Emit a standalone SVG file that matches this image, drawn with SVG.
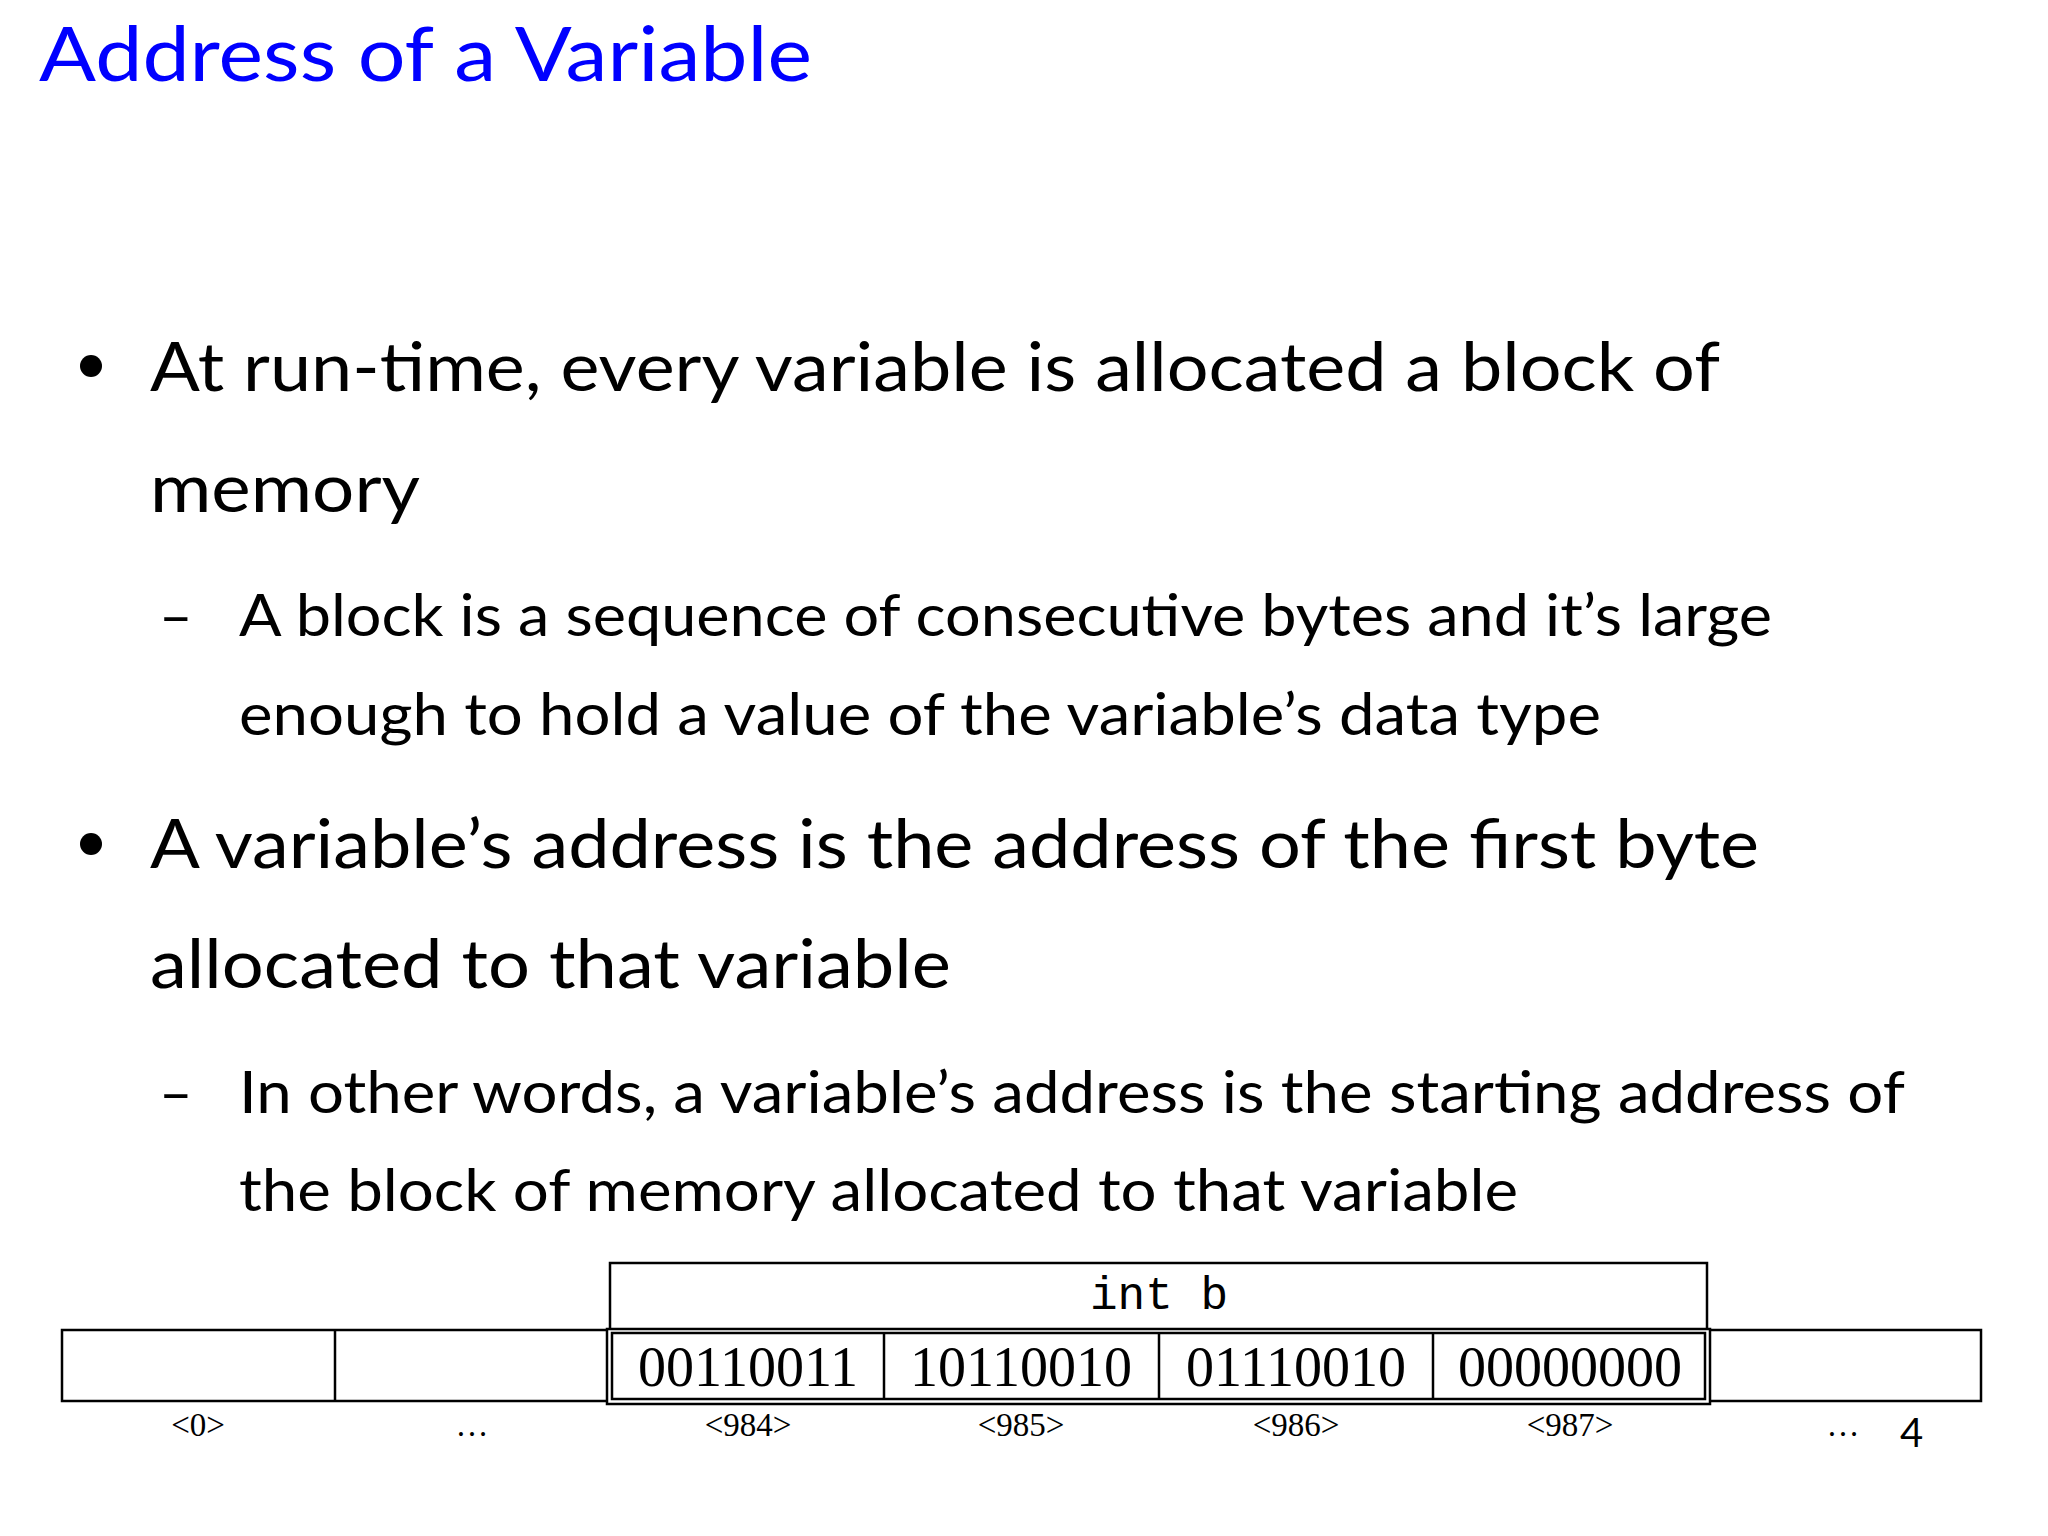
<svg xmlns="http://www.w3.org/2000/svg" width="2048" height="1536" viewBox="0 0 2048 1536">
<style>
.t{font-family:Lato,"Noto Sans","Liberation Sans",sans-serif;fill:#000}
.s{font-family:"Liberation Serif",serif;fill:#000;text-anchor:middle}
.b{fill:none;stroke:#000;stroke-width:2.5}
</style>
<rect width="2048" height="1536" fill="#fff"/>
<text x="39" y="81" font-family="Lato,'Noto Sans',sans-serif" font-size="76" fill="#0000ff" textLength="773" lengthAdjust="spacingAndGlyphs">Address of a Variable</text>
<circle cx="91" cy="366" r="11"/>
<circle cx="91" cy="844" r="11"/>
<text class="t" x="150" y="391" font-size="68" textLength="1570" lengthAdjust="spacingAndGlyphs">At run-time, every variable is allocated a block of</text>
<text class="t" x="150" y="512" font-size="68" textLength="270" lengthAdjust="spacingAndGlyphs">memory</text>
<text class="t" x="159" y="636" font-size="58">–</text>
<text class="t" x="239" y="636" font-size="58" textLength="1533" lengthAdjust="spacingAndGlyphs">A block is a sequence of consecutive bytes and it’s large</text>
<text class="t" x="239" y="735" font-size="58" textLength="1362" lengthAdjust="spacingAndGlyphs">enough to hold a value of the variable’s data type</text>
<text class="t" x="150" y="868" font-size="68" textLength="1609" lengthAdjust="spacingAndGlyphs">A variable’s address is the address of the first byte</text>
<text class="t" x="150" y="988" font-size="68" textLength="801" lengthAdjust="spacingAndGlyphs">allocated to that variable</text>
<text class="t" x="159" y="1113" font-size="58">–</text>
<text class="t" x="239" y="1113" font-size="58" textLength="1666" lengthAdjust="spacingAndGlyphs">In other words, a variable’s address is the starting address of</text>
<text class="t" x="239" y="1211" font-size="58" textLength="1279" lengthAdjust="spacingAndGlyphs">the block of memory allocated to that variable</text>
<g id="row">
<rect class="b" x="62" y="1330" width="1919" height="71"/>
<line class="b" x1="335" y1="1330" x2="335" y2="1401"/>
</g>
<g id="intb">
<rect class="b" x="610" y="1263" width="1097" height="67"/>
<text x="1159" y="1309" font-family="'Liberation Mono',monospace" font-size="46" text-anchor="middle" fill="#000">int b</text>
</g>
<g id="block">
<rect x="607" y="1329" width="1103" height="75" fill="#fff" stroke="#000" stroke-width="2.5"/>
<rect class="b" x="612" y="1333" width="1093" height="66"/>
<line class="b" x1="884" y1="1333" x2="884" y2="1399"/>
<line class="b" x1="1159" y1="1333" x2="1159" y2="1399"/>
<line class="b" x1="1433" y1="1333" x2="1433" y2="1399"/>
<text class="s" x="748" y="1386" font-size="56">00110011</text>
<text class="s" x="1021" y="1386" font-size="56">10110010</text>
<text class="s" x="1296" y="1386" font-size="56">01110010</text>
<text class="s" x="1570" y="1386" font-size="56">00000000</text>
</g>
<g id="labels">
<text class="s" x="198" y="1436" font-size="33">&lt;0&gt;</text>
<text class="s" x="472" y="1436" font-size="33">…</text>
<text class="s" x="748" y="1436" font-size="33">&lt;984&gt;</text>
<text class="s" x="1021" y="1436" font-size="33">&lt;985&gt;</text>
<text class="s" x="1296" y="1436" font-size="33">&lt;986&gt;</text>
<text class="s" x="1570" y="1436" font-size="33">&lt;987&gt;</text>
<text class="s" x="1843" y="1436" font-size="33">…</text>
</g>
<text class="t" x="1900" y="1447" font-size="40">4</text>
</svg>
